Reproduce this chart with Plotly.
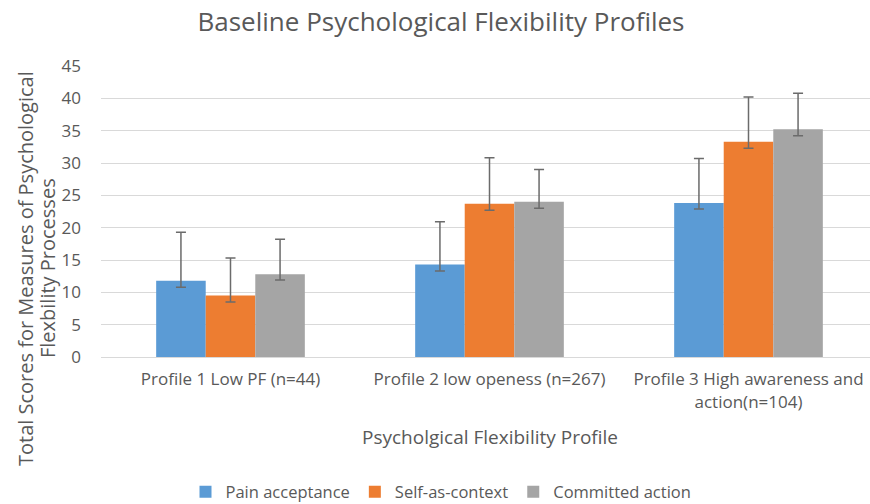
import plotly.graph_objects as go

categories = ["Profile 1 Low PF (n=44)", "Profile 2 low openess (n=267)",
              "Profile 3 High awareness and<br>action(n=104)"]
series_names = ["Pain acceptance", "Self-as-context", "Committed action"]
pain_acceptance = [11.8, 14.3, 23.8]
self_as_context = [9.5, 23.7, 33.3]
committed_action = [12.8, 24.0, 35.2]
pain_err_plus = [7.5, 6.6, 6.9]
self_err_plus = [5.8, 7.1, 6.9]
committed_err_plus = [5.4, 5.0, 5.6]
pain_err_minus = [1.0, 1.0, 0.9]
self_err_minus = [1.0, 1.0, 1.0]
committed_err_minus = [0.9, 1.0, 1.0]
y_ticks = [0, 5, 10, 15, 20, 25, 30, 35, 40, 45]
y_title_lines = ["Total Scores for Measures of Psychological", "Flexbility Processes"]

colors = ["#5B9BD5", "#ED7D31", "#A5A5A5"]
FONT = "Open Sans"
TXT = "#595959"

fig = go.Figure()
for name, vals, ep, em, c in zip(series_names,
                                 [pain_acceptance, self_as_context, committed_action],
                                 [pain_err_plus, self_err_plus, committed_err_plus],
                                 [pain_err_minus, self_err_minus, committed_err_minus],
                                 colors):
    fig.add_trace(go.Bar(
        name=name, x=categories, y=vals, marker_color=c,
        marker_line_width=0,
        error_y=dict(type="data", symmetric=False, array=ep, arrayminus=em,
                     color="#6B6B6B", thickness=1.5, width=5),
    ))

fig.update_layout(
    width=870, height=504,
    barmode="group", bargap=0.426, bargroupgap=0,
    plot_bgcolor="white", paper_bgcolor="white",
    margin=dict(l=101, r=0, t=66, b=147, autoexpand=False),
    font=dict(family=FONT, color=TXT, size=16),
    title=dict(text="Baseline Psychological Flexibility Profiles",
               font=dict(size=26, color=TXT, family=FONT),
               x=441/870, xanchor="center", y=1-22/504, yanchor="middle",
               xref="container", yref="container"),
    showlegend=True,
    legend=dict(orientation="h", x=(441-101)/769, xanchor="center",
                y=(357-492)/291, yanchor="middle",
                font=dict(size=16.5, color=TXT), traceorder="normal",
                itemwidth=30),
    xaxis=dict(range=[-0.5, -0.5 + 769/259], showgrid=False, showline=True,
               linecolor="#D9D9D9", linewidth=1, ticks="", automargin=False,
               ticklabelstandoff=7,
               tickfont=dict(size=17, color=TXT)),
    yaxis=dict(range=[0, 45], tickvals=y_ticks, showgrid=True,
               gridcolor="#D9D9D9", gridwidth=1, zeroline=False, automargin=False,
               showline=False, ticks="", ticklabelstandoff=19,
               tickfont=dict(size=17, color=TXT)),
    annotations=[
        dict(text=y_title_lines[0],
             textangle=-90, xref="paper", yref="paper",
             x=(25-101)/769, y=(357-269)/291, xanchor="center", yanchor="middle",
             showarrow=False, font=dict(size=20, color=TXT)),
        dict(text=y_title_lines[1],
             textangle=-90, xref="paper", yref="paper",
             x=(47-101)/769, y=(357-268)/291, xanchor="center", yanchor="middle",
             showarrow=False, font=dict(size=20, color=TXT)),
        dict(text="Psycholgical Flexibility Profile", xref="paper", yref="paper",
             x=(490-101)/769, y=(357-437)/291, xanchor="center", yanchor="middle",
             showarrow=False, font=dict(size=19, color=TXT)),
    ],
)

fig.write_html("out.html", config={"displayModeBar": False},
               post_script="document.body.style.margin='0';document.body.style.padding='0';")
